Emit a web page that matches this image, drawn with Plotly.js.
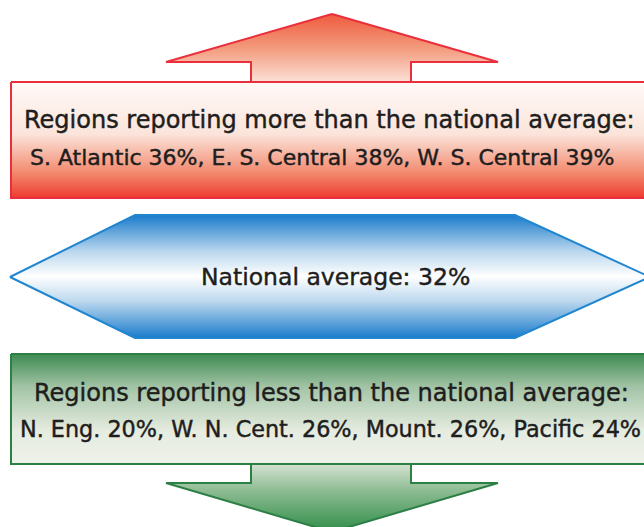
<!DOCTYPE html>
<html><head><meta charset="utf-8">
<script src="https://cdn.plot.ly/plotly-3.0.1.min.js"></script>
<style>html,body{margin:0;padding:0;background:#fff}#chart{width:644px;height:527px}
.annotation-text{stroke:#1e1e1e;stroke-width:0.45px}</style>
</head><body><div id="chart"></div>
<script>
// Data
const nationalAverage = 32;
const aboveRegions = ["S. Atlantic", "E. S. Central", "W. S. Central"];
const aboveValues = [36, 38, 39];
const belowRegions = ["N. Eng.", "W. N. Cent.", "Mount.", "Pacific"];
const belowValues = [20, 26, 26, 24];

const fmt = (names, vals) => names.map((n, i) => n + " " + vals[i] + "%").join(", ");

// Decorative shape geometry (pixel space: x 0..644, y 0..527 downwards)
const W = 644;
const upArrow = {x:[332,498,411,411,251,251,166,332], y:[14,62,62,82,82,62,62,14]};
const upBox = {x:[11,660,660,11,11], y:[82,82,198,198,82]};
const hexa = {x:[10,135,515,650,515,135,10], y:[277,215,215,277,338,338,277]};
const downBox = {x:[11,660,660,11,11], y:[354,354,464,464,354]};
const downArrow = {x:[251,411,411,498,332,166,251,251], y:[464,464,483,483,532,483,483,464]};

// colorscale listed top -> bottom on screen; reversed for the gradient which starts at the bottom
function poly(p, line, scaleTopDown){
  const scale = scaleTopDown.map(s => [1 - s[0], s[1]]).reverse();
  return {x:p.x, y:p.y, type:'scatter', mode:'lines', fill:'toself',
    line:{color:line, width:2}, hoverinfo:'skip', showlegend:false,
    fillgradient:{type:'vertical', colorscale:scale}};
}
const traces = [
  poly(upArrow, '#ea2f3c', [[0,'#ef5a3e'],[0.5,'#f39a7c'],[1,'#fbe1d8']]),
  poly(upBox, '#ea2f3c', [[0,'#fffaf8'],[0.45,'#fbe4da'],[0.8,'#f28468'],[1,'#ee3a30']]),
  poly(hexa, '#1f86cf', [[0,'#1a7bcc'],[0.3,'#bcd8ee'],[0.5,'#ffffff'],[0.7,'#bcd8ee'],[1,'#1a7bcc']]),
  poly(downBox, '#2c7f45', [[0,'#3d8a52'],[0.3,'#a3c4a6'],[0.7,'#e6ece0'],[1,'#eef1ea']]),
  poly(downArrow, '#2c7f45', [[0,'#d3e2d0'],[0.4,'#8cbb92'],[1,'#2f8e48']])
];

const fam = '"DejaVu Sans", sans-serif';
const f = s => ({family:fam, size:s, color:'#1e1e1e'});
const layout = {
  width:644, height:527, margin:{l:0,r:0,t:0,b:0},
  paper_bgcolor:'#fff', plot_bgcolor:'#fff',
  xaxis:{range:[0,W], visible:false, fixedrange:true},
  yaxis:{range:[527,0], visible:false, fixedrange:true},
  annotations:[
    {x:329, y:120, text:'Regions reporting more than the national average:', showarrow:false, font:f(24)},
    {x:322, y:157, text:fmt(aboveRegions, aboveValues), showarrow:false, font:f(22)},
    {x:335, y:277, text:'National average: ' + nationalAverage + '%', showarrow:false, font:f(23.5)},
    {x:331, y:393, text:'Regions reporting less than the national average:', showarrow:false, font:f(24)},
    {x:330, y:429, text:fmt(belowRegions, belowValues), showarrow:false, font:f(22.3)}
  ]
};
Plotly.newPlot('chart', traces, layout, {displayModeBar:false, staticPlot:true});
</script></body></html>
